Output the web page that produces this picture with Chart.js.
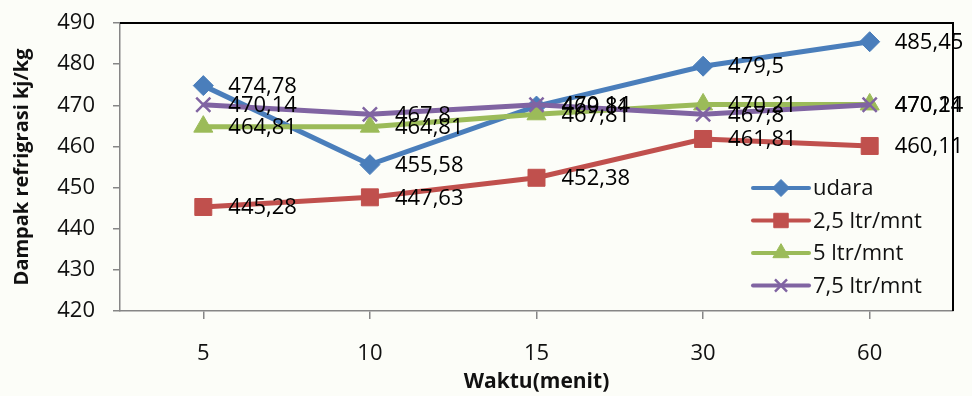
<!DOCTYPE html>
<html>
<head>
<meta charset="utf-8">
<script src="https://cdn.jsdelivr.net/npm/chart.js@4.4.1/dist/chart.umd.min.js"></script>
<style>
  html, body { margin: 0; padding: 0; background: #fcfdf8; }
  #wrap { width: 972px; height: 396px; position: relative; }
</style>
</head>
<body>
<div id="wrap"><canvas id="c" width="972" height="396"></canvas></div>
<script>
// Waktu (menit) categories
const categories = ['5', '10', '15', '30', '60'];
const seriesNames = ['udara', '2,5 ltr/mnt', '5 ltr/mnt', '7,5 ltr/mnt'];

// Dampak refrigrasi (kJ/kg) per series
const udara  = [474.78, 455.58, 469.81, 479.5, 485.45];
const flow25 = [445.28, 447.63, 452.38, 461.81, 460.11];
const flow5  = [464.81, 464.81, 467.81, 470.21, 470.21];
const flow75 = [470.14, 467.8, 470.14, 467.8, 470.14];

const yMin = 420, yMax = 490, yStep = 10;

const FONT = '"Open Sans", "Noto Sans", sans-serif';
const TEXT = '#111111';

const colors = ['#4a7ebb', '#c0504d', '#9bbb59', '#8064a2'];
const styles = ['rectRot', 'rect', 'triangle', 'crossRot'];
const radii  = [10, 12, 11, 10];
const values = [udara, flow25, flow5, flow75];

const fmt = v => String(v).replace('.', ',');

const datasets = values.map((data, i) => ({
  label: seriesNames[i],
  data: data,
  borderColor: colors[i],
  backgroundColor: colors[i],
  borderWidth: 5,
  pointStyle: styles[i],
  pointRadius: radii[i],
  pointHoverRadius: radii[i],
  pointBackgroundColor: colors[i],
  pointBorderColor: colors[i],
  pointBorderWidth: styles[i] === 'crossRot' ? 2.5 : 1,
  tension: 0,
  fill: false,
  order: values.length - i
}));

// Plot frame (top and right edges), value labels and the legend box
const decorations = {
  id: 'decorations',
  beforeDraw(chart) {
    const ctx = chart.ctx;
    ctx.save();
    ctx.fillStyle = '#fcfdf8';
    ctx.fillRect(0, 0, chart.width, chart.height);
    ctx.restore();
  },
  afterDatasetsDraw(chart) {
    const ctx = chart.ctx;
    const a = chart.chartArea;
    ctx.save();
    ctx.strokeStyle = '#000000';
    ctx.lineWidth = 2;
    ctx.beginPath();
    ctx.moveTo(a.left, a.top);
    ctx.lineTo(a.right, a.top);
    ctx.lineTo(a.right, a.bottom);
    ctx.stroke();

    ctx.font = '22px ' + FONT;
    ctx.fillStyle = '#000000';
    ctx.textAlign = 'left';
    ctx.textBaseline = 'middle';
    chart.data.datasets.forEach((ds, i) => {
      const meta = chart.getDatasetMeta(i);
      meta.data.forEach((pt, j) => {
        ctx.fillText(fmt(ds.data[j]), pt.x + 25, pt.y + 1);
      });
    });
    ctx.restore();
  },
  afterDraw(chart) {
    const ctx = chart.ctx;
    const a = chart.chartArea;
    const x0 = a.right - 200;
    ctx.save();
    chart.data.datasets.forEach((ds, i) => {
      const y = a.top + 165 + i * 32.5;
      ctx.strokeStyle = ds.borderColor;
      ctx.lineWidth = 4;
      ctx.lineCap = 'round';
      ctx.beginPath();
      ctx.moveTo(x0, y);
      ctx.lineTo(x0 + 56, y);
      ctx.stroke();
      ctx.lineCap = 'butt';
      ctx.fillStyle = ds.backgroundColor;
      ctx.strokeStyle = ds.borderColor;
      ctx.lineWidth = ds.pointBorderWidth;
      Chart.helpers.drawPoint(ctx, {
        pointStyle: ds.pointStyle,
        radius: ds.pointRadius * 0.85,
        rotation: 0,
        borderWidth: ds.pointBorderWidth
      }, x0 + 28, y);
      ctx.fillStyle = TEXT;
      ctx.font = '22px ' + FONT;
      ctx.textAlign = 'left';
      ctx.textBaseline = 'middle';
      ctx.fillText(ds.label, x0 + 60, y + 1);
    });
    ctx.restore();
  }
};

new Chart(document.getElementById('c'), {
  type: 'line',
  data: { labels: categories, datasets: datasets },
  options: {
    responsive: false,
    animation: false,
    devicePixelRatio: 1,
    layout: { padding: { top: 23, right: 19, left: 0, bottom: 0 } },
    plugins: {
      legend: { display: false },
      tooltip: { enabled: false }
    },
    scales: {
      x: {
        type: 'category',
        offset: true,
        grid: {
          display: true,
          drawOnChartArea: false,
          drawTicks: true,
          tickLength: 8,
          color: '#868686',
          lineWidth: 1.5,
          offset: false
        },
        border: { color: '#868686', width: 1.5 },
        ticks: {
          color: TEXT,
          font: { family: FONT, size: 22 },
          padding: 22,
          maxRotation: 0
        },
        title: {
          display: true,
          text: 'Waktu(menit)',
          color: TEXT,
          font: { family: FONT, size: 21, weight: 'bold' },
          padding: { top: 0, bottom: 1 }
        },
        afterFit(scale) {
          scale.height = 85;
          scale.paddingLeft = 0;
          scale.paddingRight = 0;
        }
      },
      y: {
        min: yMin,
        max: yMax,
        grid: {
          display: true,
          drawOnChartArea: false,
          drawTicks: true,
          tickLength: 7,
          color: '#868686',
          lineWidth: 1.5
        },
        border: { color: '#868686', width: 1.5 },
        ticks: {
          stepSize: yStep,
          color: TEXT,
          font: { family: FONT, size: 22 },
          padding: 18
        },
        title: {
          display: true,
          text: 'Dampak refrigrasi kj/kg',
          color: TEXT,
          font: { family: FONT, size: 20, weight: 'bold' },
          padding: { top: 10, bottom: 0 }
        },
        afterFit(scale) {
          scale.width = 120;
          scale.paddingTop = 0;
          scale.paddingBottom = 0;
        }
      }
    }
  },
  plugins: [decorations]
});
</script>
</body>
</html>
